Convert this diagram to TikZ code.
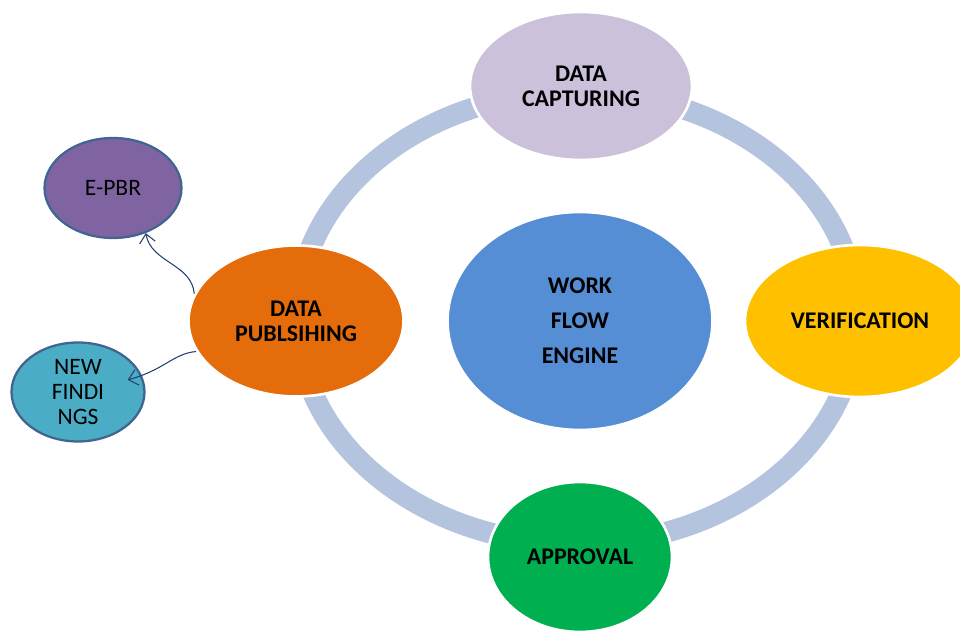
\documentclass[tikz,border=0pt]{standalone}
\usepackage{fontspec}
\setmainfont{Carlito}
\usepackage{tikz}
\usetikzlibrary{shapes.geometric,arrows.meta}

\definecolor{ringblue}{HTML}{B4C3DE}
\definecolor{captfill}{HTML}{CCC1DA}
\definecolor{veriffill}{HTML}{FFC000}
\definecolor{apprfill}{HTML}{00B050}
\definecolor{publfill}{HTML}{E46C0A}
\definecolor{enginefill}{HTML}{558ED5}
\definecolor{epbrfill}{HTML}{8064A2}
\definecolor{newffill}{HTML}{4BACC6}
\definecolor{leafline}{HTML}{3F6590}
\definecolor{linkblue}{HTML}{24406E}

\tikzset{
	stage/.style={ellipse, inner sep=0pt, draw=white, line width=1.5pt, align=center, font=\bfseries\fontsize{13.6}{14.2}\selectfont},
	leaf/.style={ellipse, inner sep=0pt, draw=leafline, line width=1.3pt, align=center, font=\fontsize{13.4}{14}\selectfont},
	link/.style={draw=linkblue, line width=0.6pt, -{Straight Barb[length=5pt,width=9pt]}},
}

\begin{document}
\begin{tikzpicture}[x=0.02cm, y=0.02cm]
		%%%%% START %%%%%
		
		\useasboundingbox (0, 0) rectangle (960, 631);
		\clip (0, 0) rectangle (960, 631);
		
		\draw[line width=0.42cm, color=ringblue] (577, 313) ellipse (280 and 226);
		
		\node[stage, fill=enginefill, minimum width=5.3cm, minimum height=4.36cm, font=\bfseries\fontsize{13.6}{20}\selectfont] (engine) at (580, 310) {WORK\\FLOW\\ENGINE};
		
		\node[stage, fill=captfill, minimum width=4.44cm, minimum height=2.96cm] (capt) at (581, 545) {DATA\\CAPTURING};
		\node[stage, fill=veriffill, minimum width=4.6cm, minimum height=3.04cm] (verif) at (860, 310) {VERIFICATION};
		\node[stage, fill=apprfill, minimum width=3.68cm, minimum height=3.0cm] (appr) at (580, 74) {APPROVAL};
		\node[stage, fill=publfill, minimum width=4.3cm, minimum height=3.02cm] (publ) at (296, 310) {DATA\\PUBLSIHING};
		
		\node[leaf, fill=epbrfill, minimum width=2.74cm, minimum height=2.0cm] (epbr) at (113, 443) {E-PBR};
		\node[leaf, fill=newffill, minimum width=2.66cm, minimum height=1.98cm] (newf) at (78, 239) {NEW\\FINDI\\NGS};
		
		\draw[link] (publ.165) to[out=95, in=-80] (epbr.-54);
		\draw[link, shorten >=-0.3cm] (publ.197) to[out=185, in=15] (newf.14);
		
		%%%%% END %%%%%
\end{tikzpicture}
\end{document}
